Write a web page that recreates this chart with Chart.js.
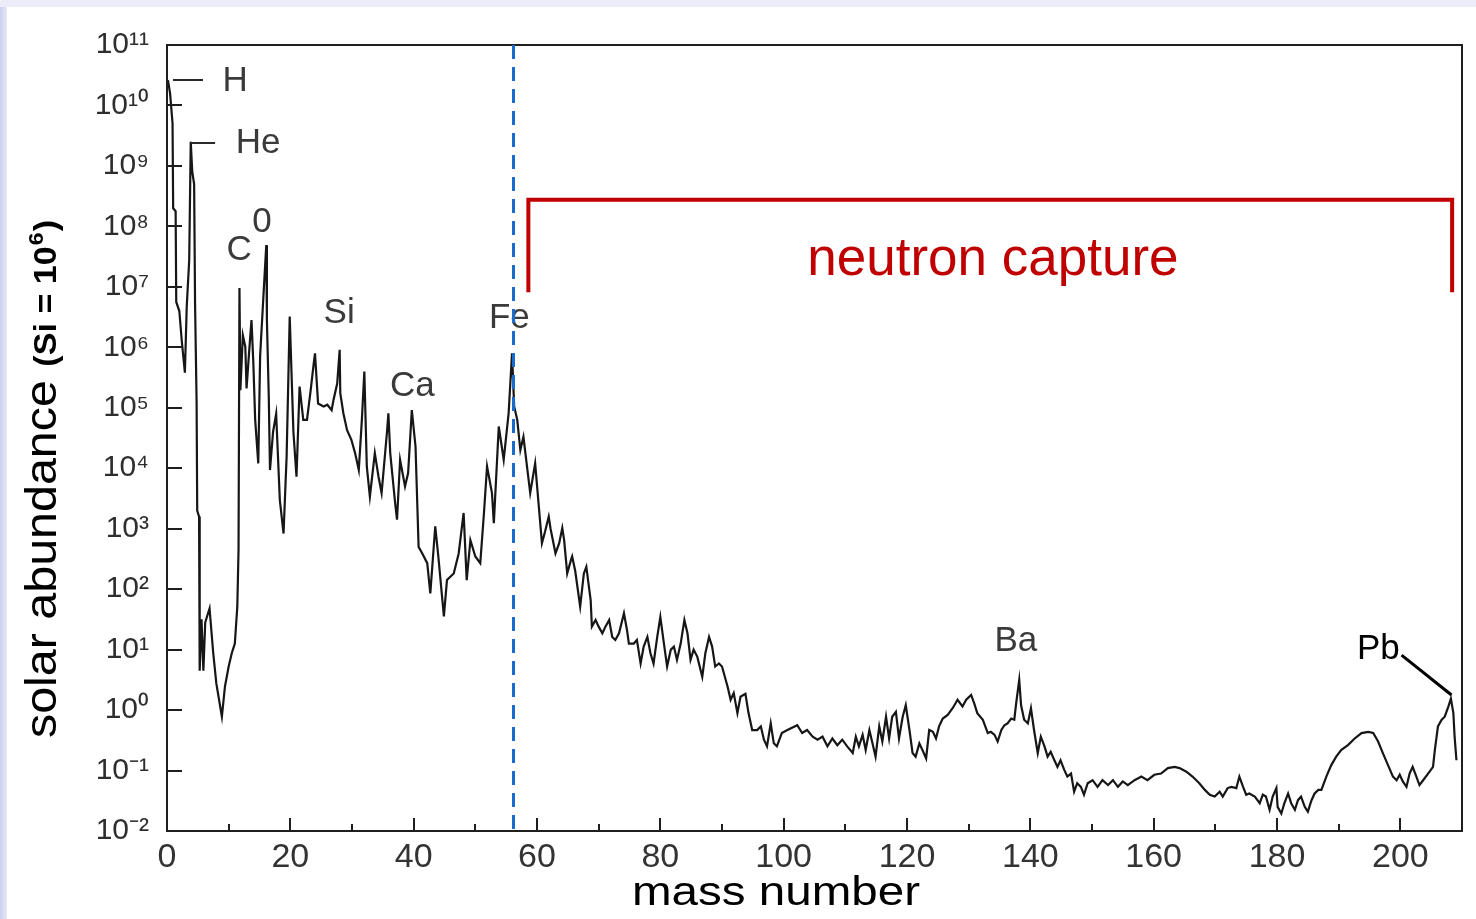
<!DOCTYPE html>
<html><head><meta charset="utf-8">
<script src="https://cdn.jsdelivr.net/npm/chart.js@4.4.0/dist/chart.umd.min.js"></script>
<style>
html,body{margin:0;padding:0;width:1476px;height:919px;overflow:hidden;background:#ffffff;}
#bgLeft{position:absolute;left:0;top:0;width:7px;height:919px;background:linear-gradient(to right,#cdd0ee,#e6e7f7);}
#bgTop{position:absolute;left:0;top:0;width:1476px;height:7px;background:#ecedf8;}
#wrap{position:absolute;left:0;top:0;width:1476px;height:919px;}
</style></head><body>
<div id="bgLeft"></div><div id="bgTop"></div>
<div id="wrap"><canvas id="c" width="1476" height="919"></canvas></div>
<script>
// ---- tick labels ----
const xTickValues = [0,20,40,60,80,100,120,140,160,180,200];
const xTickLabels = ['0','20','40','60','80','100','120','140','160','180','200'];
const yTickValues = [1e-2,1e-1,1e0,1e1,1e2,1e3,1e4,1e5,1e6,1e7,1e8,1e9,1e10,1e11];
const yTickLabels = ['10⁻²','10⁻¹','10⁰','10¹','10²','10³','10⁴','10⁵','10⁶','10⁷','10⁸','10⁹','10¹⁰','10¹¹'];

// ---- series: mass number and log10(solar abundance, Si = 1e6) ----
const massLight = [0.15,0.5,0.9,1.0,1.4,1.5,2.0,2.4,2.9,3.2,3.6,3.85,4.1,4.4,4.55,4.8,4.9,5.2,5.3,5.6,5.9,6.2,6.9,7.5,8.0,8.9,9.4,10.0,10.5,11.0,11.4,11.6,11.75,11.9,12.3,12.7,12.9,13.3,13.7,14.0,14.3,14.8,15.1,15.6,16.1,16.2,16.5,16.7,17.2,17.7,18.3,18.9,19.4,19.9,20.5,21.0];
const logLight  = [10.42,10.2,9.7,8.3,8.25,6.75,6.6,6.1,5.58,6.67,7.44,9.4,8.9,8.7,6.73,5.1,3.3,3.2,0.65,1.5,0.65,1.45,1.68,0.94,0.44,-0.11,0.39,0.72,0.94,1.1,1.71,2.65,6.98,5.29,6.2,6.01,5.32,5.9,6.45,5.74,4.8,4.08,5.85,6.78,7.69,6.45,5.2,3.97,4.6,4.9,3.47,2.92,4.2,6.51,4.6,3.86];

const massIron = [21.5,22.1,22.7,23.3,23.8,24.0,24.5,25.4,26.0,26.7,27.0,27.6,28.0,28.1,28.6,29.2,29.9,30.5,31.1,31.6,32.0,32.4,32.9,33.7,34.3,34.8,35.7,35.9,36.2,37.0,37.3,37.8,38.6,39.1,39.7,40.3,40.8,41.4,42.2,42.7,43.5,44.0,44.9,45.4,46.5,47.3,48.1,48.6,49.2,50.0,50.8,51.4,51.9,52.7,53.0,53.8,54.6,55.4,55.95,56.3,56.8,57.3,57.8,58.9,59.7];
const logIron  = [5.35,4.80,4.80,5.29,5.74,5.90,5.07,5.02,5.05,4.96,5.13,5.4,5.96,5.24,4.91,4.63,4.47,4.25,3.97,4.80,5.60,4.03,3.53,4.25,3.86,3.59,4.63,4.91,4.25,3.42,3.15,4.14,3.70,3.92,4.96,4.36,2.70,2.59,2.43,1.93,3.04,2.54,1.55,2.15,2.26,2.59,3.26,2.15,2.81,2.54,2.43,3.26,4.03,3.59,3.09,4.69,4.14,4.91,5.90,5.02,4.80,4.30,4.52,3.59,4.08];

const massTail = [60.3,60.8,61.3,61.9,62.2,63.0,63.6,64.1,64.4,64.9,65.5,65.7,66.2,67.0,67.6,68.0,68.7,68.9,69.5,70.0,70.6,71.1,71.7,72.2,72.7,73.3,74.1,74.6,74.9,75.7,76.2,76.8,77.3,77.9,78.4,78.9,79.5,80.0,80.5,81.1,81.7,82.2,82.7,83.3,83.9,84.4,84.9,85.4,86.0,86.8,87.3,87.9,88.4,88.9,89.5,90.0,90.9,91.4,91.9,92.5,93.0,93.8,94.3,94.9,95.7,96.3,96.8,97.3,97.9,98.4,98.9,99.7,100.6];
const logTail  = [3.36,2.76,2.95,3.2,3.0,2.59,2.76,3.01,2.81,2.26,2.48,2.54,2.3,1.71,2.26,2.37,1.82,1.38,1.49,1.38,1.27,1.38,1.49,1.21,1.16,1.27,1.60,1.32,1.1,1.1,1.16,0.77,1.05,1.21,0.94,0.77,1.21,1.54,1.16,0.72,1.0,1.05,0.83,1.1,1.49,1.27,0.83,1.0,0.88,0.55,0.94,1.21,1.05,0.72,0.77,0.72,0.39,0.17,0.28,-0.05,0.22,0.27,-0.05,-0.33,-0.33,-0.27,-0.49,-0.6,-0.22,-0.55,-0.6,-0.38,-0.33];

const massHeavy = [102.2,103.0,103.8,104.7,105.5,106.3,107.1,107.9,108.7,109.5,110.3,111.2,111.7,112.2,112.8,113.3,113.9,114.4,114.9,115.5,116.0,116.6,117.1,117.6,118.2,118.7,119.3,119.8,120.4,120.9,121.4,122.0,122.5,123.1,123.6,124.2,124.7,125.2,125.8,126.6,127.4,128.2,129.0,129.6,130.4,130.9,131.4,132.3,133.1,133.6,134.2,134.7,135.3,135.8,136.3,136.9,137.4,137.7,138.2,138.5,139.0,139.6,140.1,140.6,141.2,141.7,142.3,142.8,143.3,143.9,144.4,144.9,145.5,146.0,146.6,147.1,147.6,148.2,148.7,149.3,150.1,150.9,151.7,152.6,153.4,154.2,155.0,155.8];
const logHeavy  = [-0.25,-0.38,-0.33,-0.44,-0.49,-0.44,-0.60,-0.47,-0.58,-0.49,-0.60,-0.71,-0.44,-0.60,-0.41,-0.66,-0.33,-0.55,-0.77,-0.27,-0.52,-0.11,-0.47,-0.11,-0.03,-0.47,-0.11,0.08,-0.33,-0.71,-0.77,-0.55,-0.66,-0.80,-0.33,-0.36,-0.47,-0.27,-0.14,-0.08,0.03,0.17,0.06,0.17,0.25,0.11,-0.05,-0.16,-0.38,-0.36,-0.41,-0.52,-0.33,-0.25,-0.22,-0.14,-0.16,0.11,0.50,0.08,-0.16,-0.22,0.03,-0.33,-0.71,-0.44,-0.60,-0.77,-0.69,-0.83,-0.94,-0.83,-0.99,-1.10,-1.05,-1.35,-1.21,-1.27,-1.40,-1.21,-1.16,-1.27,-1.16,-1.24,-1.16,-1.27,-1.18,-1.24];

const massLead = [156.9,158.0,159.0,160.1,161.2,162.3,163.4,164.2,165.3,166.3,167.4,168.3,169.1,169.9,170.7,171.2,172.0,172.6,173.4,173.9,174.5,175.0,175.5,176.4,177.2,177.7,178.2,178.8,179.3,179.9,180.1,180.7,181.2,181.8,182.3,182.9,183.4,183.9,184.5,185.0,185.6,186.1,186.7,187.2,188.0,188.8,189.6,190.4,191.5,192.6,193.7,194.8,195.6,196.4,197.2,198.0,198.8,199.4,199.9,200.4,201.0,201.5,202.0,202.6,203.1,203.7,204.5,205.3,205.6,206.1,206.7,207.2,207.8,208.2,208.6,208.8,209.1];
const logLead  = [-1.16,-1.10,-1.16,-1.07,-1.05,-0.96,-0.94,-0.96,-1.02,-1.10,-1.21,-1.32,-1.40,-1.43,-1.35,-1.43,-1.29,-1.27,-1.29,-1.10,-1.27,-1.40,-1.38,-1.43,-1.54,-1.40,-1.43,-1.65,-1.43,-1.29,-1.60,-1.71,-1.54,-1.38,-1.54,-1.65,-1.49,-1.43,-1.60,-1.68,-1.49,-1.38,-1.32,-1.32,-1.10,-0.91,-0.77,-0.66,-0.58,-0.47,-0.38,-0.36,-0.38,-0.52,-0.72,-0.91,-1.10,-1.16,-1.07,-1.18,-1.27,-1.05,-0.94,-1.10,-1.24,-1.16,-1.05,-0.94,-0.66,-0.27,-0.16,-0.11,0.06,0.19,-0.05,-0.44,-0.83];

// ---- annotation texts ----
const labelText = ['H','He','C','0','Si','Ca','Fe','Ba'];
const leadLabel = 'Pb';
const regionLabel = 'neutron capture';
const xTitle = 'mass number';
const yTitleMain = 'solar abundance';
const yTitleNote = '(Si = 10';
const yTitleExp = '6';

// annotation placement (in data units: mass number, log10 abundance)
const labelPos = {
  H:[11.04,10.40], He:[14.77,9.38], C:[11.69,7.61], '0':[15.42,8.07], Si:[27.92,6.57],
  Ca:[39.77,5.36], Fe:[55.52,6.48], Ba:[137.66,1.13]
};
const leadPos = [196.43,1.0];
const regionPos = [133.93,7.44];
const ironLine = 56.1;
const bracket = {from:58.6, to:208.4, top:8.44, bottom:6.91};

const massNumber = [].concat(massLight, massIron, massTail, massHeavy, massLead);
const log10Abundance = [].concat(logLight, logIron, logTail, logHeavy, logLead);
const points = massNumber.map((m,i)=>({x:m, y:Math.pow(10, log10Abundance[i])}));

Chart.defaults.font.family = "'Liberation Sans', Arial, Helvetica, sans-serif";

const deco = {
  id:'deco',
  afterDatasetsDraw(chart){
    const {ctx, chartArea:a, scales} = chart;
    const xs = scales.x, ys = scales.y;
    const px = m => xs.getPixelForValue(m);
    const py = l => ys.getPixelForValue(Math.pow(10,l));
    ctx.save();
    // frame
    ctx.strokeStyle = '#1e1e1e'; ctx.lineWidth = 2; ctx.setLineDash([]);
    ctx.strokeRect(a.left, a.top, a.right-a.left, a.bottom-a.top);
    // inward ticks
    ctx.beginPath();
    yTickValues.forEach(v=>{ const yy = Math.round(ys.getPixelForValue(v)); ctx.moveTo(a.left, yy); ctx.lineTo(a.left+15, yy); });
    for (let m=10; m<210; m+=10){
      const xx = Math.round(px(m));
      const len = (m%20===0) ? 13 : 7;
      ctx.moveTo(xx, a.bottom); ctx.lineTo(xx, a.bottom-len);
    }
    ctx.stroke();
    // H / He connectors
    ctx.lineWidth = 2; ctx.strokeStyle = '#2a2a2a';
    ctx.beginPath();
    ctx.moveTo(px(0.97), py(10.42)); ctx.lineTo(px(5.84), py(10.42));
    ctx.moveTo(px(3.9), py(9.38)); ctx.lineTo(px(7.8), py(9.38));
    ctx.stroke();
    // element labels
    ctx.fillStyle = '#3a3a3a'; ctx.font = "35px 'Liberation Sans', Arial, sans-serif";
    ctx.textAlign = 'center'; ctx.textBaseline = 'middle';
    labelText.forEach(t=>{ const p = labelPos[t]; ctx.fillText(t, px(p[0]), py(p[1])); });
    // Pb label and pointer
    ctx.fillStyle = '#000'; ctx.fillText(leadLabel, px(leadPos[0]), py(leadPos[1]));
    ctx.strokeStyle = '#000'; ctx.lineWidth = 3;
    ctx.beginPath(); ctx.moveTo(px(200.2), py(0.91)); ctx.lineTo(px(208.3), py(0.25)); ctx.stroke();
    // neutron capture bracket
    ctx.strokeStyle = '#c00000'; ctx.lineWidth = 4;
    ctx.beginPath();
    ctx.moveTo(px(bracket.from), py(bracket.bottom)); ctx.lineTo(px(bracket.from), py(bracket.top));
    ctx.lineTo(px(bracket.to), py(bracket.top)); ctx.lineTo(px(bracket.to), py(bracket.bottom));
    ctx.stroke();
    ctx.fillStyle = '#c00000'; ctx.font = "53px 'Liberation Sans', Arial, sans-serif";
    ctx.fillText(regionLabel, px(regionPos[0]), py(regionPos[1]));
    // iron dashed line
    ctx.strokeStyle = '#1a6bcc'; ctx.lineWidth = 3; ctx.setLineDash([14,8]);
    ctx.beginPath(); ctx.moveTo(Math.round(px(ironLine))+0.5, a.top); ctx.lineTo(Math.round(px(ironLine))+0.5, a.bottom+6); ctx.stroke();
    ctx.setLineDash([]);
    ctx.restore();

    // axis titles
    ctx.save();
    ctx.fillStyle = '#000'; ctx.textBaseline = 'alphabetic';
    ctx.translate(776, 905); ctx.scale(1.16, 1);
    ctx.textAlign = 'center'; ctx.font = "41px 'Liberation Sans', Arial, sans-serif";
    ctx.fillText(xTitle, 0, 0);
    ctx.restore();

    ctx.save();
    ctx.fillStyle = '#000'; ctx.textBaseline = 'alphabetic'; ctx.textAlign = 'left';
    ctx.translate(56, 738); ctx.rotate(-Math.PI/2); ctx.scale(1.1, 1);
    ctx.font = "44px 'Liberation Sans', Arial, sans-serif";
    ctx.fillText(yTitleMain, 0, 0);
    let w = ctx.measureText(yTitleMain + ' ').width;
    ctx.font = "bold 31px 'Liberation Sans', Arial, sans-serif";
    ctx.fillText(yTitleNote, w, 0);
    w += ctx.measureText(yTitleNote).width;
    ctx.font = "bold 21px 'Liberation Sans', Arial, sans-serif";
    ctx.fillText(yTitleExp, w+1, -13);
    w += ctx.measureText(yTitleExp).width + 2;
    ctx.font = "bold 31px 'Liberation Sans', Arial, sans-serif";
    ctx.fillText(')', w, 0);
    ctx.restore();
  }
};

new Chart(document.getElementById('c'), {
  type:'line',
  data:{datasets:[{data:points, borderColor:'#161616', borderWidth:2.2, pointRadius:0, tension:0, fill:false}]},
  options:{
    responsive:false, devicePixelRatio:1, animation:false, parsing:false,
    layout:{padding:{top:45,right:14,left:0,bottom:0}},
    plugins:{legend:{display:false}, tooltip:{enabled:false}},
    scales:{
      x:{type:'linear', min:0, max:210,
         afterBuildTicks:s=>{ s.ticks = xTickValues.map(v=>({value:v})); },
         afterFit:s=>{ s.height = 88; },
         grid:{display:false, drawTicks:false}, border:{display:false},
         ticks:{autoSkip:false, maxRotation:0, padding:6, color:'#333', font:{size:34}, callback:(v,i)=>xTickLabels[i]}},
      y:{type:'logarithmic', min:1e-2, max:1e11,
         afterBuildTicks:s=>{ s.ticks = yTickValues.map(v=>({value:v})); },
         afterFit:s=>{ s.width = 167; },
         grid:{display:false, drawTicks:false}, border:{display:false},
         ticks:{autoSkip:false, padding:18, color:'#2e2e2e', font:{size:30}, callback:(v,i)=>yTickLabels[i]}}
    }
  },
  plugins:[deco]
});
</script></body></html>
